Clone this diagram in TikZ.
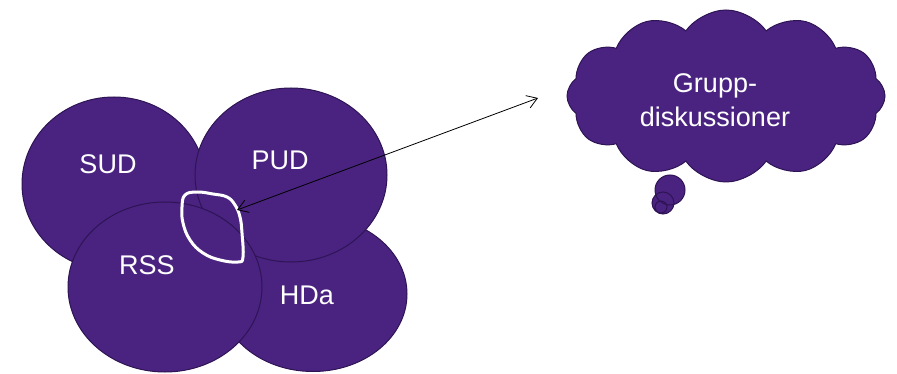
\documentclass[tikz,border=0pt]{standalone}
\usepackage{fontspec}
\setmainfont{Liberation Sans}
\usetikzlibrary{shapes.geometric,shapes.symbols,arrows.meta,positioning}
\definecolor{lila}{RGB}{74,35,128}
\definecolor{lilabordo}{RGB}{46,20,84}

\begin{document}
\begin{tikzpicture}[x=1pt,y=-1pt]
    % Stili
    \tikzset{
        blob/.style={ellipse, draw=lilabordo, fill=lila, line width=1pt, inner sep=0pt},
        bolla/.style={draw=lilabordo, fill=lila, line width=1pt},
        tag/.style={text=white, font=\fontsize{27}{34}\selectfont},
        arrow/.style={{Straight Barb[length=10pt,width=13pt]}-{Straight Barb[length=10pt,width=13pt]}, line width=0.8pt},
        ring/.style={draw=white, line width=3pt, line join=round}
    }
    \useasboundingbox (0,0) rectangle (897,374);

    % Cerchi
    \node[blob, minimum width=188pt, minimum height=155pt] (hda) at (313,294) {};
    \node[blob, minimum width=184pt, minimum height=174pt] (sud) at (114,184) {};
    \node[blob, minimum width=192pt, minimum height=174pt] (pud) at (291,175) {};
    \node[blob, minimum width=194pt, minimum height=170pt] (rss) at (165,287) {};

    % Etichette
    \node[tag] (sudtxt) at (108,164) {SUD};
    \node[tag] (pudtxt) at (280,160) {PUD};
    \node[tag] (rsstxt) at (147,265) {RSS};
    \node[tag] (hdatxt) at (307,295) {HDa};

    % Anello bianco
    \draw[ring] plot[smooth cycle, tension=0.7] coordinates {(185,195) (197,192) (213,194) (227,197) (235,205) (240,217) (242,233) (243,257) (238,262) (220,260) (203,253) (190,240) (183,223) (182,207)};

    % Nuvola
    \draw[bolla] (670,190) circle (15) (663,203) circle (11) (661,207) circle (6);
    \node[blob, cloud, cloud puffs=12, cloud puff arc=110, aspect=1.85, minimum width=318pt,
        minimum height=172pt] (nuvola) at (726,96) {};
    \node[tag, align=center] (grupp) at (715,100) {Grupp-\\diskussioner};

    % Freccia
    \coordinate (mira) at (237,210);
    \coordinate (punta) at (538,98);
    \draw[arrow] (mira) -- (punta);
\end{tikzpicture}
\end{document}
